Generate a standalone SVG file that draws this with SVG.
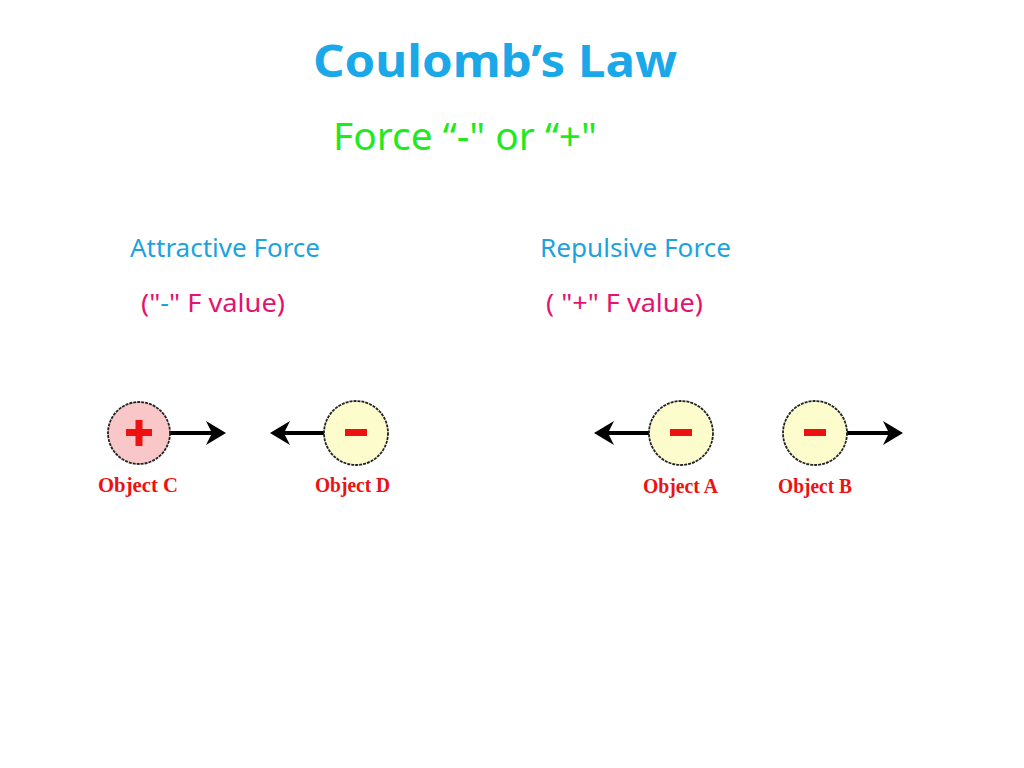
<svg xmlns="http://www.w3.org/2000/svg" width="1024" height="768" viewBox="0 0 1024 768">
<style>
.t{font-family:"Noto Sans","Liberation Sans",sans-serif}
.sub{font-size:26px;fill:#1aa3df}
.val{font-size:26px;fill:#e3136e}
.obj{font-family:"Liberation Serif",serif;font-weight:bold;font-size:21px;fill:#ee1111}
.neg{fill:#fdfccc;stroke:#222;stroke-width:1.8;stroke-dasharray:3 1}
.pos{fill:#f9c7c7;stroke:#222;stroke-width:1.8;stroke-dasharray:3 1}
.ar{stroke:#000;stroke-width:4;fill:none}
.sign{fill:#ee1111}
</style>
<defs>
<marker id="ah" markerWidth="6" markerHeight="6" refX="4" refY="3" orient="auto" markerUnits="strokeWidth">
<path d="M0,0 L5,3 L0,6 L1.5,3 Z" fill="#000"/>
</marker>
</defs>
<rect width="1024" height="768" fill="#fff"/>
<text class="t" x="313" y="77" font-size="44" font-weight="bold" fill="#1aa8e8" textLength="364" lengthAdjust="spacingAndGlyphs">Coulomb’s Law</text>
<text class="t" x="333" y="150" font-size="38" fill="#1eea1e" textLength="264" lengthAdjust="spacingAndGlyphs">Force  “-" or “+"</text>
<text class="t sub" x="130" y="257" textLength="190" lengthAdjust="spacingAndGlyphs">Attractive Force</text>
<text class="t sub" x="540" y="257" textLength="191" lengthAdjust="spacingAndGlyphs">Repulsive Force</text>
<text class="t val" x="141" y="312" textLength="144" lengthAdjust="spacingAndGlyphs">("<tspan fill="#1aa3df">-</tspan>" F value)</text>
<text class="t val" x="546" y="312" textLength="157" lengthAdjust="spacingAndGlyphs">( "+" F value)</text>
<g id="connectors">
<line class="ar" x1="170" y1="433" x2="222" y2="433" marker-end="url(#ah)"/>
<line class="ar" x1="325" y1="433" x2="274" y2="433" marker-end="url(#ah)"/>
<line class="ar" x1="650" y1="433" x2="598" y2="433" marker-end="url(#ah)"/>
<line class="ar" x1="847" y1="433" x2="899" y2="433" marker-end="url(#ah)"/>
</g>
<g id="objectC">
<circle class="pos" cx="139" cy="433" r="31"/>
<rect class="sign" x="126" y="429" width="26" height="7"/>
<rect class="sign" x="135.5" y="420" width="7" height="26"/>
<text class="obj" x="98" y="492" textLength="80" lengthAdjust="spacingAndGlyphs">Object C</text>
</g>
<g id="objectD">
<circle class="neg" cx="356" cy="433" r="32"/>
<rect class="sign" x="345" y="429" width="22" height="7"/>
<text class="obj" x="315" y="492" textLength="75" lengthAdjust="spacingAndGlyphs">Object D</text>
</g>
<g id="objectA">
<circle class="neg" cx="681" cy="433" r="32"/>
<rect class="sign" x="670" y="429" width="22" height="7"/>
<text class="obj" x="643" y="493" textLength="75" lengthAdjust="spacingAndGlyphs">Object A</text>
</g>
<g id="objectB">
<circle class="neg" cx="815" cy="433" r="32"/>
<rect class="sign" x="804" y="429" width="22" height="7"/>
<text class="obj" x="778" y="493" textLength="74" lengthAdjust="spacingAndGlyphs">Object B</text>
</g>
</svg>
